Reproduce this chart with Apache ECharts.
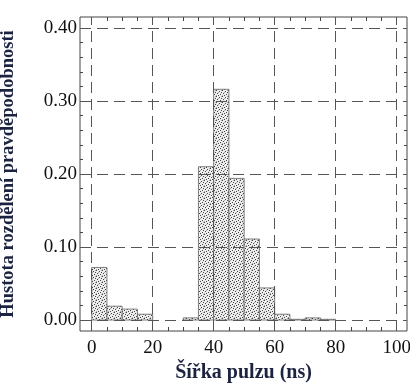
<!DOCTYPE html>
<html><head><meta charset="utf-8">
<script src="https://cdn.jsdelivr.net/npm/echarts@6/dist/echarts.min.js"></script>
<style>html,body{margin:0;padding:0;background:#fff}#c{width:410px;height:388px}</style>
</head><body><div id="c"></div>
<script>
// Data
const binStart = [0,5,10,15,20,25,30,35,40,45,50,55,60,65,70,75];
const binWidth = 5;
const density = [0.072,0.019,0.015,0.008,0,0,0.003,0.210,0.316,0.194,0.111,0.044,0.008,0.001,0.003,0.001];
const xTicks = [0,20,40,60,80,100];
const yTicks = [0,0.1,0.2,0.3,0.4];
const xMinor = [0,5,10,15,20,25,30,35,40,45,50,55,60,65,70,75,80,85,90,95,100];
const yMinor = [0,0.02,0.04,0.06,0.08,0.1,0.12,0.14,0.16,0.18,0.2,0.22,0.24,0.26,0.28,0.3,0.32,0.34,0.36,0.38,0.4];

// stipple pattern
const pc = document.createElement('canvas');
pc.width = 6; pc.height = 6;
const g = pc.getContext('2d');
g.fillStyle = '#eeeeee'; g.fillRect(0,0,6,6);
g.fillStyle = '#444444';
[[0,0],[3,1],[1,3],[4,4],[2,5],[5,2]].forEach(p=>g.fillRect(p[0],p[1],1,1));
g.fillStyle = '#aaaaaa';
[[2,2],[5,0],[0,5]].forEach(p=>g.fillRect(p[0],p[1],1,1));

const bars = binStart.map((s,i)=>[s, s+binWidth, density[i]]);
const font = '"Liberation Serif", "DejaVu Serif", serif';
const titleColor = '#1c2340';
const gridStyle = {color:'#555', width:1, type:[11,6]};

const chart = echarts.init(document.getElementById('c'));
chart.setOption({
  animation:false,
  grid:{left:80, right:3, top:17, bottom:57, outerBoundsMode:'none', containLabel:false,
        show:true, borderColor:'#444', borderWidth:1, backgroundColor:'transparent'},
  xAxis:[{
    type:'value', min:-3.84, max:103.4, position:'bottom',
    name:'Šířka pulzu (ns)', nameLocation:'middle', nameGap:32,
    nameTextStyle:{fontFamily:font, fontSize:20, fontWeight:'bold', color:titleColor},
    axisLine:{show:false, onZero:false}, splitLine:{show:false},
    axisTick:{show:true, inside:true, length:4, customValues:xMinor, lineStyle:{color:'#444'}},
    axisLabel:{customValues:xTicks, fontFamily:font, fontSize:19, color:'#111', margin:8}
  },{
    type:'value', min:-3.84, max:103.4, position:'top',
    axisLine:{show:false, onZero:false}, splitLine:{show:false}, axisLabel:{show:false},
    axisTick:{show:true, inside:true, length:4, customValues:xMinor, lineStyle:{color:'#444'}}
  }],
  yAxis:[{
    type:'value', min:-0.015, max:0.415, position:'left',
    name:'Hustota rozdělení pravděpodobnosti', nameLocation:'middle', nameGap:62, nameRotate:90,
    nameTextStyle:{fontFamily:font, fontSize:18.5, fontWeight:'bold', color:titleColor},
    axisLine:{show:false, onZero:false}, splitLine:{show:false},
    axisTick:{show:true, inside:true, length:3, customValues:yMinor, lineStyle:{color:'#444'}},
    axisLabel:{customValues:yTicks, formatter:v=>v.toFixed(2), fontFamily:font, fontSize:19, color:'#111', margin:3}
  },{
    type:'value', min:-0.015, max:0.415, position:'right',
    axisLine:{show:false, onZero:false}, splitLine:{show:false}, axisLabel:{show:false},
    axisTick:{show:true, inside:true, length:3, customValues:yMinor, lineStyle:{color:'#444'}}
  }],
  series:[{
    type:'line', data:[], z:1, silent:true,
    markLine:{silent:true, symbol:'none', label:{show:false}, lineStyle:gridStyle,
      data: xTicks.map(v=>({xAxis:v})).concat(yTicks.map(v=>({yAxis:v})))}
  },{
    type:'custom', z:3, data:bars,
    renderItem:function(params, api){
      const x0 = api.value(0), x1 = api.value(1), v = api.value(2);
      if (v <= 0) return null;
      const p0 = api.coord([x0, v]);
      const p1 = api.coord([x1, 0]);
      return {type:'rect', shape:{x:p0[0], y:p0[1], width:p1[0]-p0[0], height:p1[1]-p0[1]},
        style:{fill:{image:pc, repeat:'repeat'}, stroke:'#666', lineWidth:0.8}};
    },
    encode:{x:[0,1], y:2}
  }]
});
</script></body></html>
